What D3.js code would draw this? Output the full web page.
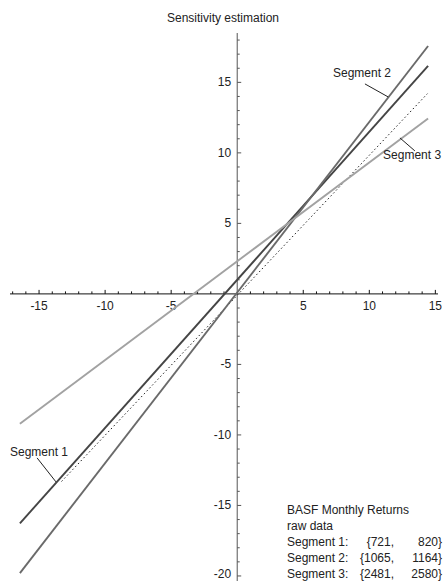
<!doctype html>
<html lang="en">
<head>
    <meta charset="UTF-8">
    <title>Sensitivity estimation</title>
    <style>
        body { margin: 0; background: #fff; }
        svg { display: block; font-family: Arial, "Liberation Sans", sans-serif; }
    </style>
</head>
<body>
<div class="canvas"></div>

<script src="https://d3js.org/d3.v7.min.js"></script>
<script>
    // values
    const xEnds = [ -16.45, 14.45 ];
    const segment1 = [ -16.27, 16.17 ];
    const segment2 = [ -19.8, 17.58 ];
    const segment3 = [ -9.2, 12.43 ];
    const refX = [ -13.3, 14.4 ];
    const refY = [ -13.3, 14.2 ];

    const xTicks = [ -15, -10, -5, 5, 10, 15 ];
    const yTicks = [ -20, -15, -10, -5, 5, 10, 15 ];

    const segNames = [ 'Segment 1', 'Segment 2', 'Segment 3' ];
    const segColors = [ '#454545', '#6a6a6a', '#a2a2a2' ];

    // label position, pointer start, pointer end (data units)
    const labelPos = [ [ -17.2, -11.49 ], [ 7.25, 15.39 ], [ 11.04, 9.57 ] ];
    const pointerFrom = [ [ -15.15, -11.63 ], [ 9.67, 14.89 ], [ 12.32, 11.06 ] ];
    const pointerTo = [ [ -13.72, -13.33 ], [ 11.42, 13.97 ], [ 13.45, 10.14 ] ];

    const legendHead = [ 'BASF Monthly Returns', 'raw data' ];
    const ranges = [ [ 721, 820 ], [ 1065, 1164 ], [ 2481, 2580 ] ];

    const svgWidth = 446;
    const svgHeight = 581;

    const svg = d3.select('.canvas').append('svg')
        .attr('width', svgWidth)
        .attr('height', svgHeight)
    ;

    const x = d3.scaleLinear().domain([ -17.2, 15.2 ]).range([ 10, 438 ]);
    const y = d3.scaleLinear().domain([ -20.4, 18.5 ]).range([ 581.6, 33 ]);

    svg.append('text')
        .attr('x', 223)
        .attr('y', 22)
        .attr('text-anchor', 'middle')
        .attr('font-size', 12)
        .attr('fill', '#222')
        .text('Sensitivity estimation')
    ;

    // axes: x ticks point up, y ticks point right
    const minor = d3.range(-20, 19).filter(v => v % 5 !== 0);
    const xMinor = d3.range(-17, 16).filter(v => v % 5 !== 0);

    const xAxisGroup = svg.append('g').attr('transform', `translate(0, ${y(0)})`);
    xAxisGroup.append('line')
        .attr('x1', x.range()[0]).attr('x2', x.range()[1])
        .attr('stroke', '#111')
    ;
    xAxisGroup.selectAll('.major').data(xTicks).enter().append('line')
        .attr('x1', d => x(d)).attr('x2', d => x(d))
        .attr('y1', 0).attr('y2', -4)
        .attr('stroke', '#111')
    ;
    xAxisGroup.selectAll('.minor').data(xMinor).enter().append('line')
        .attr('x1', d => x(d)).attr('x2', d => x(d))
        .attr('y1', 0).attr('y2', -2.5)
        .attr('stroke', '#111')
    ;
    xAxisGroup.selectAll('text').data(xTicks).enter().append('text')
        .attr('x', d => x(d))
        .attr('y', 16)
        .attr('text-anchor', 'middle')
        .attr('font-size', 12)
        .attr('fill', '#222')
        .text(d => d)
    ;

    const yAxisGroup = svg.append('g').attr('transform', `translate(${x(0)}, 0)`);
    yAxisGroup.append('line')
        .attr('y1', y.range()[1]).attr('y2', y.range()[0])
        .attr('stroke', '#555')
    ;
    yAxisGroup.selectAll('.major').data(yTicks).enter().append('line')
        .attr('y1', d => y(d)).attr('y2', d => y(d))
        .attr('x1', 0).attr('x2', 4)
        .attr('stroke', '#555')
    ;
    yAxisGroup.selectAll('.minor').data(minor).enter().append('line')
        .attr('y1', d => y(d)).attr('y2', d => y(d))
        .attr('x1', 0).attr('x2', 2.5)
        .attr('stroke', '#555')
    ;
    yAxisGroup.selectAll('text').data(yTicks).enter().append('text')
        .attr('x', -6)
        .attr('y', d => Math.min(y(d) + 4, 577.5))
        .attr('text-anchor', 'end')
        .attr('font-size', 12)
        .attr('fill', '#222')
        .text(d => d)
    ;

    // reference 45 degree line
    svg.append('line')
        .attr('x1', x(refX[0])).attr('y1', y(refY[0]))
        .attr('x2', x(refX[1])).attr('y2', y(refY[1]))
        .attr('stroke', '#222')
        .attr('stroke-width', 1)
        .attr('stroke-dasharray', '1.5,2.5')
    ;

    const segments = [ segment1, segment2, segment3 ];
    svg.selectAll('.seg').data(segments).enter().append('line')
        .attr('class', 'seg')
        .attr('x1', x(xEnds[0])).attr('x2', x(xEnds[1]))
        .attr('y1', d => y(d[0])).attr('y2', d => y(d[1]))
        .attr('stroke', (d, i) => segColors[i])
        .attr('stroke-width', 1.9)
    ;

    // labels with pointers
    segNames.forEach((name, i) => {
        svg.append('line')
            .attr('x1', x(pointerFrom[i][0])).attr('y1', y(pointerFrom[i][1]))
            .attr('x2', x(pointerTo[i][0])).attr('y2', y(pointerTo[i][1]))
            .attr('stroke', '#222')
        ;
        svg.append('text')
            .attr('x', x(labelPos[i][0]))
            .attr('y', y(labelPos[i][1]))
            .attr('font-size', 12)
            .attr('fill', '#222')
            .text(name)
        ;
    });

    // legend block at bottom right
    const legend = svg.append('g').attr('transform', 'translate(287, 514)');
    const lineH = 16;
    legendHead.forEach((t, i) => {
        legend.append('text')
            .attr('y', i * lineH)
            .attr('font-size', 12)
            .attr('fill', '#222')
            .text(t)
        ;
    });
    ranges.forEach((r, i) => {
        const row = legend.append('g').attr('transform', `translate(0, ${(i + 2) * lineH})`);
        row.append('text')
            .attr('font-size', 12).attr('fill', '#222')
            .text(segNames[i] + ':');
        row.append('text')
            .attr('x', 107).attr('text-anchor', 'end')
            .attr('font-size', 12).attr('fill', '#222')
            .text('{' + r[0] + ',');
        row.append('text')
            .attr('x', 155).attr('text-anchor', 'end')
            .attr('font-size', 12).attr('fill', '#222')
            .text(r[1] + '}');
    });
</script>
</body>
</html>
